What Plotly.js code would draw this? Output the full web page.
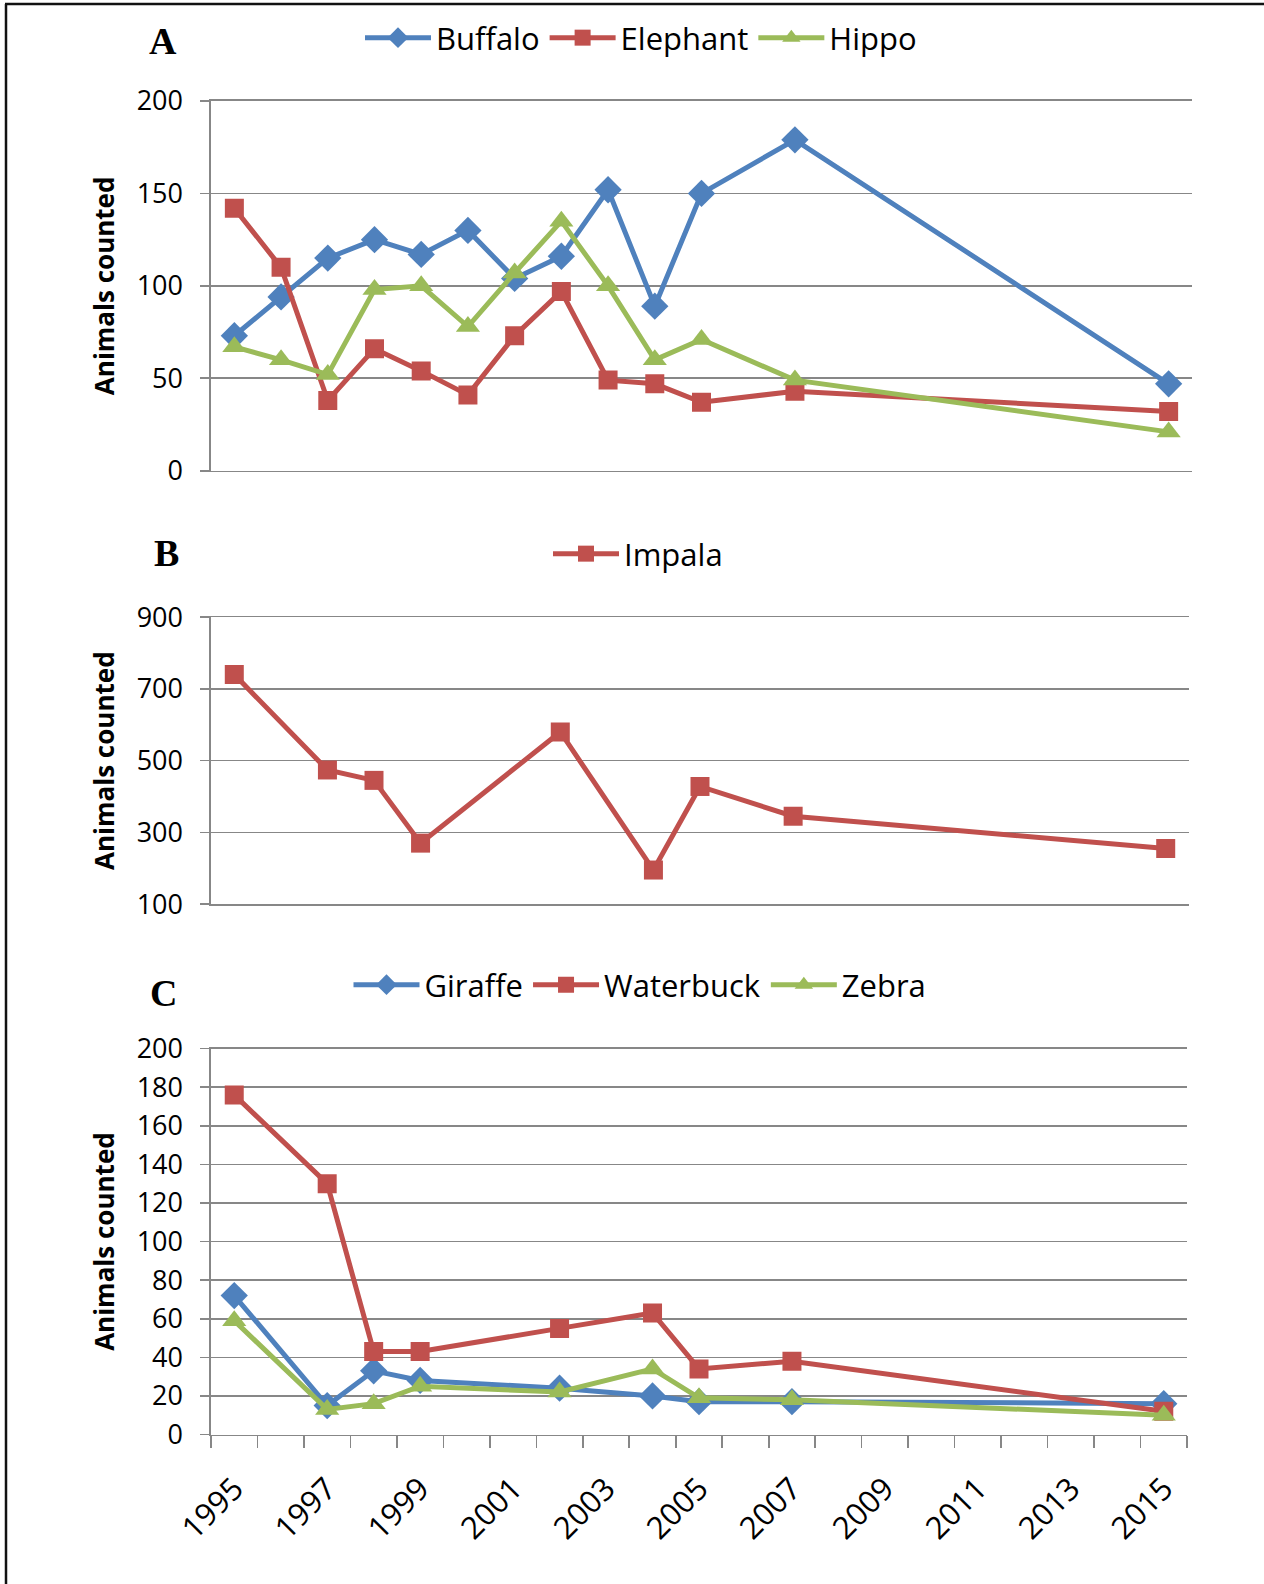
<!DOCTYPE html>
<html>
<head>
<meta charset="utf-8">
<script src="https://cdn.plot.ly/plotly-3.0.1.min.js"></script>
<style>html,body{margin:0;padding:0;background:#fff}#chart{width:1264px;height:1584px}</style>
</head>
<body>
<div id="chart"></div>
<script>
// ---- Data ----
const yearsA = [1995,1996,1997,1998,1999,2000,2001,2002,2003,2004,2005,2007,2015];
const buffalo  = [73,94,115,125,117,130,104,116,152,89,150,179,47];
const elephant = [142,110,38,66,54,41,73,97,49,47,37,43,32];
const hippo    = [67,60,52,98,100,78,107,135,100,60,71,49,21];

const yearsBC = [1995,1997,1998,1999,2002,2004,2005,2007,2015];
const impala    = [740,474,445,270,580,195,428,345,255];
const giraffe   = [72,15,33,28,24,20,17,17,16];
const waterbuck = [176,130,43,43,55,63,34,38,12];
const zebra     = [59,13,16,25,22,34,19,18,10];

const xTickYears = [1995,1997,1999,2001,2003,2005,2007,2009,2011,2013,2015];
const panelLabels = ['A','B','C'];
const yTitle = 'Animals counted';

// ---- Styling ----
const W = 1264, H = 1584;
const px = x => x / W;
const py = y => 1 - y / H;
const BLUE = '#4F81BD', RED = '#C0504D', GREEN = '#9BBB59';
const GRID = '#878787';
const FONT = 'Open Sans';

function tr(x, y, name, color, symbol, xa, ya, leg) {
  const size = symbol === 'square' ? 19 : (symbol === 'diamond' ? 21 : 21);
  return {
    x: x, y: y, name: name, type: 'scatter', mode: 'lines+markers',
    xaxis: xa, yaxis: ya, legend: leg,
    line: {color: color, width: 5},
    marker: {color: color, symbol: symbol, size: size, line: {width: 0}}
  };
}

const data = [
  tr(yearsA, buffalo, 'Buffalo', BLUE, 'diamond', 'x', 'y', 'legend'),
  tr(yearsA, elephant, 'Elephant', RED, 'square', 'x', 'y', 'legend'),
  tr(yearsA, hippo, 'Hippo', GREEN, 'triangle-up', 'x', 'y', 'legend'),
  tr(yearsBC, impala, 'Impala', RED, 'square', 'x2', 'y2', 'legend2'),
  tr(yearsBC, giraffe, 'Giraffe', BLUE, 'diamond', 'x3', 'y3', 'legend3'),
  tr(yearsBC, waterbuck, 'Waterbuck', RED, 'square', 'x3', 'y3', 'legend3'),
  tr(yearsBC, zebra, 'Zebra', GREEN, 'triangle-up', 'x3', 'y3', 'legend3')
];

function yax(domain, range, dtick, anchor) {
  return {
    domain: domain, range: range, dtick: dtick, tick0: range[0], anchor: anchor,
    showgrid: true, gridcolor: GRID, gridwidth: 1.6,
    showline: true, linecolor: GRID, linewidth: 1.6,
    ticks: 'outside', ticklen: 9, tickcolor: GRID, tickwidth: 1.6,
    ticklabelstandoff: 12,
    zeroline: false, fixedrange: true,
    tickfont: {family: FONT, size: 27, color: '#000'},
    title: {text: yTitle, standoff: 14, font: {family: FONT, size: 26, weight: 'bold', color: '#000'}}
  };
}
function xaxHidden(domain, anchor) {
  return {
    domain: domain, range: [1994.5, 2015.5], anchor: anchor,
    showgrid: false, zeroline: false,
    showline: true, mirror: true, linecolor: GRID, linewidth: 1.6,
    showticklabels: false, ticks: '', fixedrange: true
  };
}

function legendAt(xc, yc) {
  return {
    orientation: 'h', x: px(xc), xanchor: 'center', y: py(yc), yanchor: 'middle',
    font: {family: FONT, size: 31, color: '#000'},
    bgcolor: 'rgba(0,0,0,0)', itemwidth: 66, itemclick: false, itemdoubleclick: false
  };
}

const layout = {
  width: W, height: H,
  margin: {l: 0, r: 0, t: 0, b: 0},
  paper_bgcolor: '#fff', plot_bgcolor: '#fff',
  showlegend: true,
  xaxis: xaxHidden([px(211), px(1192)], 'y'),
  yaxis: yax([py(470.7), py(101)], [0, 200], 50, 'x'),
  xaxis2: xaxHidden([px(211), px(1189)], 'y2'),
  yaxis2: yax([py(904.1), py(617.2)], [100, 900], 200, 'x2'),
  xaxis3: {
    domain: [px(211), px(1187)], range: [1994.5, 2015.5], anchor: 'y3',
    showgrid: false, zeroline: false,
    showline: true, mirror: true, linecolor: GRID, linewidth: 1.6,
    tickmode: 'array', tickvals: xTickYears, ticktext: xTickYears.map(String),
    ticks: '', tickangle: -45, ticklabelstandoff: 22,
    tickfont: {family: FONT, size: 31, color: '#000'},
    minor: {tickmode: 'linear', tick0: 1994.5, dtick: 1, ticks: 'outside', ticklen: 12,
            tickcolor: GRID, tickwidth: 1.6, showgrid: false},
    fixedrange: true
  },
  yaxis3: yax([py(1434.5), py(1048.6)], [0, 200], 20, 'x3'),
  legend: legendAt(641, 38),
  legend2: legendAt(638, 554),
  legend3: legendAt(640, 985),
  annotations: panelLabels.map((t, i) => ({
    text: t, xref: 'paper', yref: 'paper',
    x: px([163, 166, 163][i]), y: py([41, 553, 993][i]),
    xanchor: 'center', yanchor: 'middle', showarrow: false,
    font: {family: 'Liberation Serif', size: 38, weight: 'bold', color: '#000'}
  })),
  shapes: [
    {type: 'line', xref: 'paper', yref: 'paper', x0: px(5), x1: 1.01, y0: py(4), y1: py(4),
     line: {color: '#111', width: 2.5}},
    {type: 'line', xref: 'paper', yref: 'paper', x0: px(6), x1: px(6), y0: py(4), y1: -0.01,
     line: {color: '#111', width: 2.5}}
  ]
};

Plotly.newPlot('chart', data, layout, {displayModeBar: false, staticPlot: true});
</script>
</body>
</html>
